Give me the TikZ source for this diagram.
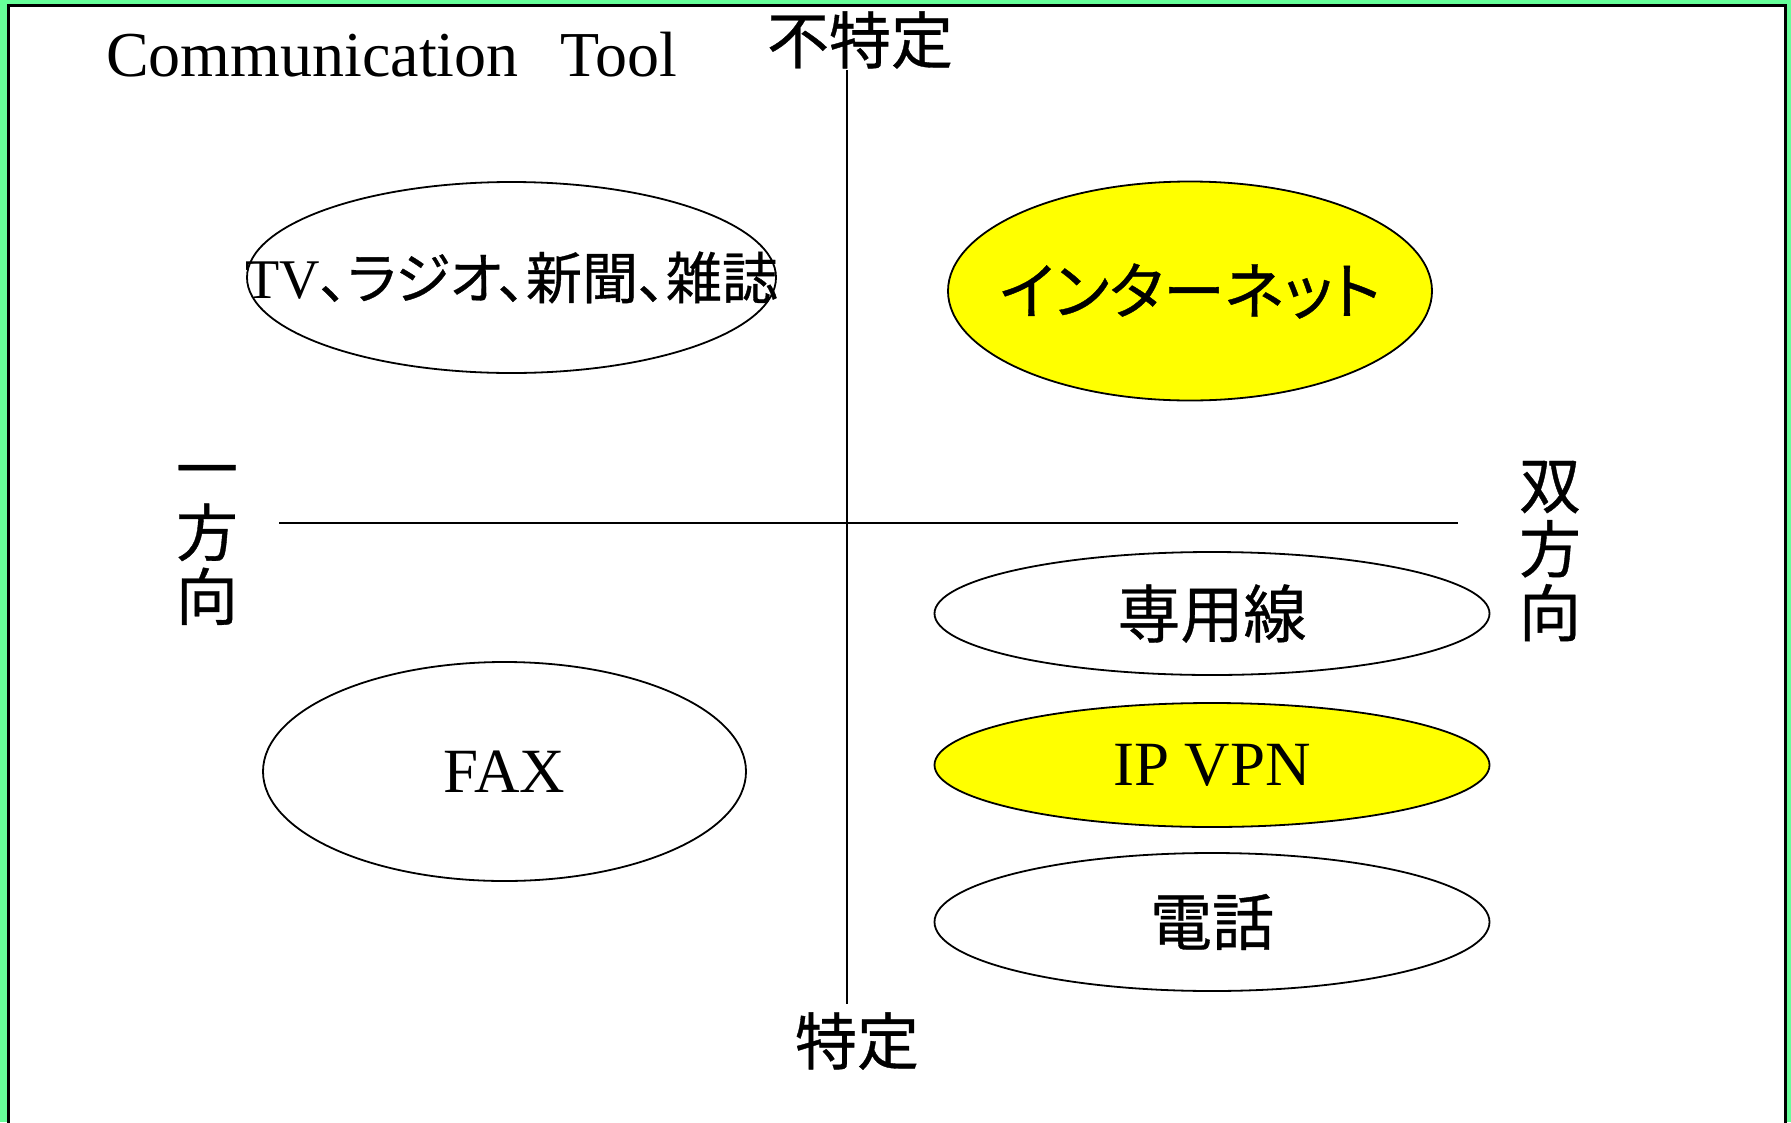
\documentclass[tikz,border=0pt]{standalone}
\usepackage{fontspec}
\setmainfont{Liberation Serif}
\newfontfamily\jp[RawFeature=+palt, FakeBold=0.6]{Noto Sans CJK JP}
\usetikzlibrary{shapes.geometric}
\definecolor{bggreen}{HTML}{66FF99}
\definecolor{ovalyellow}{HTML}{FFFF00}
\begin{document}
\begin{tikzpicture}[x=1pt,y=-1pt,
  oval/.style={ellipse, draw=black, line width=1.8pt, inner sep=0pt, fill=white},
  hioval/.style={oval, fill=ovalyellow},
  lbl/.style={inner sep=0pt, text=black},
  axis/.style={draw=black, line width=1.3pt},
  cjk/.style={lbl, font=\jp\fontsize{62}{64}\selectfont, align=center},
  latin/.style={lbl, font=\fontsize{63}{66}\selectfont}]
\useasboundingbox (0,0) rectangle (1791,1122);
\clip (0,0) rectangle (1791,1122);
\fill[bggreen] (0,0) rectangle (1791,1122);
\draw[fill=white, line width=3pt] (8.7,5) rectangle (1785.5,1140);

% title
\node[lbl, anchor=base west, font=\fontsize{64}{66}\selectfont] (title) at (106,76) {Communication\hspace{42pt}Tool};

% axes
\coordinate (vtop) at (847,70);
\coordinate (vbot) at (847,1004);
\coordinate (hleft) at (279,523);
\coordinate (hright) at (1458,523);
\draw[axis] (vtop) -- (vbot);
\draw[axis] (hleft) -- (hright);

% axis labels
\node[cjk] (top) at (860,40) {不特定};
\node[cjk] (bottom) at (857,1041) {特定};
\node[cjk] (left) at (207,545) {一\\方\\向};
\node[cjk] (right) at (1550,551) {双\\方\\向};

% ellipses
\node[oval, minimum width=529pt, minimum height=191pt] (tvo) at (511.5,277.5) {};
\node[lbl, font=\fontsize{56}{60}\selectfont] (tvt) at (tvo) {TV{\jp 、ラジオ、新聞、雑誌}};

\node[hioval, minimum width=484pt, minimum height=219pt] (neto) at (1190,291) {};
\node[cjk] (nett) at (neto) {インターネット};

\node[oval, minimum width=555pt, minimum height=123pt] (seno) at (1212,613.5) {};
\node[cjk, font=\jp\fontsize{63}{64}\selectfont] (sent) at (seno) {専用線};

\node[hioval, minimum width=555pt, minimum height=124pt] (ipo) at (1212,765) {};
\node[latin] (ipt) at (ipo) {IP VPN};

\node[oval, minimum width=555pt, minimum height=138pt] (telo) at (1212,922) {};
\node[cjk] (telt) at (telo) {電話};

\node[oval, minimum width=483pt, minimum height=219pt] (faxo) at (504.5,771.5) {};
\node[latin] (faxt) at (faxo) {FAX};
\end{tikzpicture}
\end{document}
